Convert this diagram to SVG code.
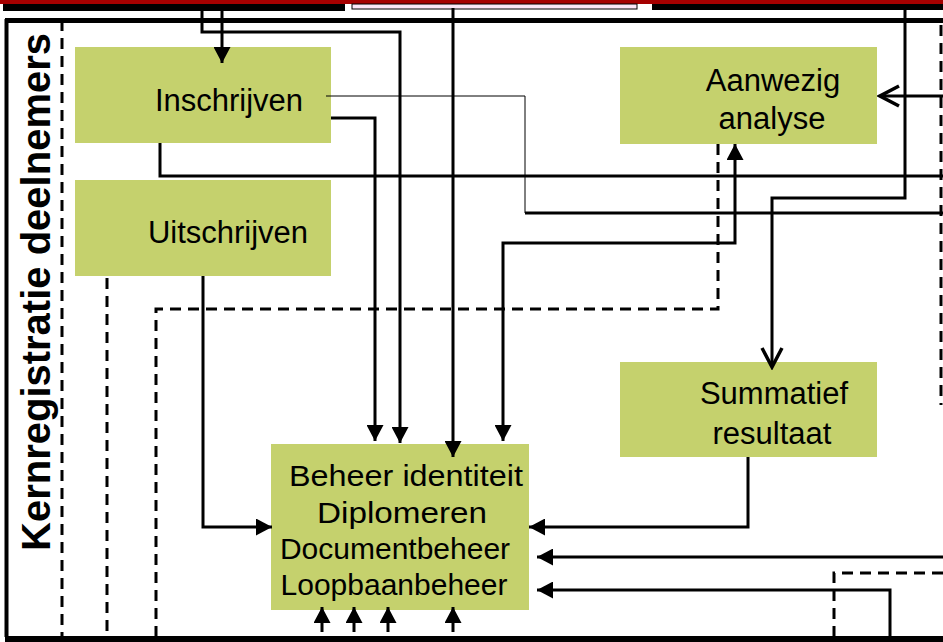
<svg xmlns="http://www.w3.org/2000/svg" width="943" height="642" viewBox="0 0 943 642">
<style>
.node rect{fill:#c5d16d;}
.node text{font-family:"Liberation Sans",Arial,sans-serif;font-size:31px;fill:#000;text-anchor:middle;}
.big text{font-size:30px;}
.c{fill:none;stroke:#000;stroke-width:3;}
.thin{stroke-width:1;}
.d{fill:none;stroke:#000;stroke-width:3;stroke-dasharray:11 7;}
.frame{fill:none;stroke:#000;}
</style>
<defs>
<marker id="ah" markerUnits="userSpaceOnUse" viewBox="0 0 16 17" refX="16" refY="8.5" markerWidth="16" markerHeight="17" orient="auto-start-reverse">
<path d="M0,0 L16,8.5 L0,17 Z" fill="#000"/>
</marker>
<marker id="ov" markerUnits="userSpaceOnUse" viewBox="-2 -2 24 24" refX="19" refY="10" markerWidth="24" markerHeight="24" orient="auto">
<path d="M0,0 L19,10 L0,20" fill="none" stroke="#000" stroke-width="3.5"/>
</marker>
</defs>
<rect width="943" height="642" fill="#fff"/>
<g id="top-band">
<rect x="0" y="0" width="943" height="4" fill="#a50000"/>
<rect x="3" y="4" width="342" height="7" fill="#000"/>
<rect x="352" y="4" width="285" height="5" fill="#fbe6f6" stroke="#000" stroke-width="1"/>
<rect x="652" y="4" width="291" height="6" fill="#000"/>
</g>
<g id="frame">
<line class="frame" x1="6.5" y1="19" x2="6.5" y2="637" stroke-width="4"/>
<line class="frame" x1="5" y1="20.5" x2="943" y2="20.5" stroke-width="5"/>
<rect x="5" y="636" width="938" height="6" fill="#000"/>
<text x="0" y="0" transform="translate(50,292) rotate(-90)" font-family="Liberation Sans,Arial,sans-serif" font-weight="bold" font-size="40" text-anchor="middle">Kernregistratie deelnemers</text>
</g>
<g id="n-inschrijven" class="node"><rect x="75" y="47" width="256" height="96"/><text x="229" y="111">Inschrijven</text></g>
<g id="n-uitschrijven" class="node"><rect x="75" y="180" width="256" height="96"/><text x="228" y="243">Uitschrijven</text></g>
<g id="n-aanwezig" class="node"><rect x="620" y="47" width="257" height="97"/><text x="773" y="91">Aanwezig</text><text x="772" y="129">analyse</text></g>
<g id="n-summatief" class="node"><rect x="620" y="362" width="257" height="95"/><text x="774" y="404">Summatief</text><text x="772" y="444">resultaat</text></g>
<g id="n-beheer" class="node big"><rect x="271" y="444" width="258" height="166"/><text x="406" y="486" textLength="234" lengthAdjust="spacingAndGlyphs">Beheer identiteit</text><text x="402" y="523" textLength="170" lengthAdjust="spacingAndGlyphs">Diplomeren</text><text x="395" y="559">Documentbeheer</text><text x="394" y="595">Loopbaanbeheer</text></g>
<g id="connectors">
<path class="c" d="M222,8 V63" marker-end="url(#ah)"/>
<path class="c" d="M202,8 V32 H400 V443" marker-end="url(#ah)"/>
<path class="c" d="M453,8 V457" marker-end="url(#ah)"/>
<path class="c" d="M331,118 H375 V441" marker-end="url(#ah)"/>
<path class="c thin" d="M326,96 H525 V213"/>
<path class="c" d="M525,213 H943"/>
<path class="c" d="M160,143 V176 H943"/>
<path class="c" d="M905,8 V198 H772 V367" marker-end="url(#ov)"/>
<path class="c" d="M943,96 H880" marker-end="url(#ov)"/>
<path class="c" d="M503,441 V243 H735 V144" marker-start="url(#ah)" marker-end="url(#ah)"/>
<path class="c" d="M203,276 V527 H272" marker-end="url(#ah)"/>
<path class="c" d="M748,457 V527 H529" marker-end="url(#ah)"/>
<path class="c" d="M943,557 H537" marker-end="url(#ah)"/>
<path class="c" d="M890,637 V590 H537" marker-end="url(#ah)"/>
<path class="c" d="M322,632 V607" marker-end="url(#ah)"/>
<path class="c" d="M354,632 V607" marker-end="url(#ah)"/>
<path class="c" d="M388,632 V607" marker-end="url(#ah)"/>
<path class="c" d="M453,632 V607" marker-end="url(#ah)"/>
<path class="d" d="M62,20 V637"/>
<path class="d" d="M107,278 V637"/>
<path class="d" d="M156,637 V309 H718 V144"/>
<path class="d" d="M941,25 V405"/>
<path class="d" d="M834,637 V573 H943"/>
</g>
</svg>
